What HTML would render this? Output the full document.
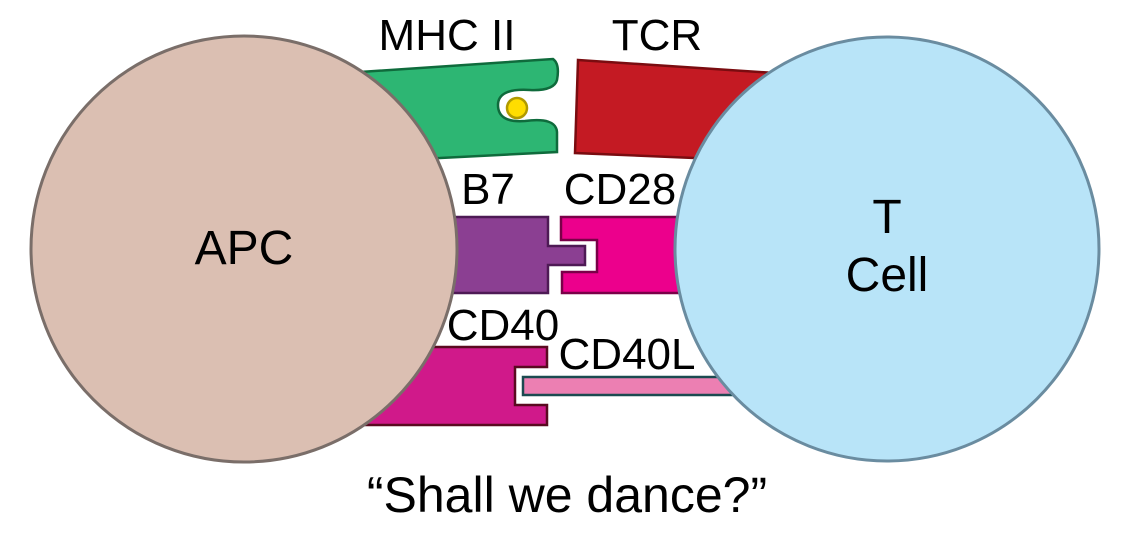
<!DOCTYPE html>
<html><head><style>html,body{margin:0;padding:0;background:#fff;}svg{display:block}</style></head>
<body>
<svg width="1148" height="541" viewBox="0 0 1148 541" xmlns="http://www.w3.org/2000/svg" font-family="Liberation Sans, Arial, sans-serif">
<rect width="1148" height="541" fill="#fff"/>
<path d="M360,72 L553,59 Q560,64 557,80 Q554,91 530,90 Q498,88 498,105 Q498,123 525,121 Q556,117 557,132 L557,152 L440,158 L360,160 Z" fill="#2db673" stroke="#0f6b3c" stroke-width="2.5"/>
<circle cx="517" cy="108" r="10" fill="#ffdd00" stroke="#b09a00" stroke-width="2.5"/>
<path d="M578,60 L790,74 L790,162 L575,153 Z" fill="#c41a23" stroke="#7a0c10" stroke-width="2.5"/>
<path d="M440,217 L548,217 L548,246 L585,246 L585,265 L548,265 L548,293 L440,293 Z" fill="#8b3f92" stroke="#4e1a55" stroke-width="2.5"/>
<path d="M561,217 L710,217 L710,293 L562,293 L562,272 L597,272 L597,240 L561,240 Z" fill="#ec008c" stroke="#7a0048" stroke-width="2.5"/>
<path d="M340,347 L547,347 L547,367 L515,367 L515,405 L547,405 L547,425 L340,425 Z" fill="#d0198a" stroke="#5a0a20" stroke-width="2.5"/>
<rect x="523" y="377" width="230" height="18" fill="#ec7fb2" stroke="#1b4a50" stroke-width="2.5"/>
<circle cx="244" cy="249" r="213" fill="#dbbfb2" stroke="#7a6e69" stroke-width="3"/>
<circle cx="887" cy="249" r="212" fill="#b8e4f8" stroke="#6a8ca0" stroke-width="3"/>
<g font-size="44" text-anchor="middle" fill="#000">
<text x="447" y="50">MHC II</text>
<text x="657" y="50">TCR</text>
<text x="488" y="204">B7</text>
<text x="620" y="204">CD28</text>
<text x="503" y="340">CD40</text>
<text x="627" y="369">CD40L</text>
</g>
<g font-size="48" text-anchor="middle" fill="#000">
<text x="244" y="264">APC</text>
<text x="887" y="233">T</text>
<text x="887" y="291">Cell</text>
</g>
<text x="567" y="512" font-size="50" text-anchor="middle" fill="#000">“Shall we dance?”</text>
</svg>
</body></html>
